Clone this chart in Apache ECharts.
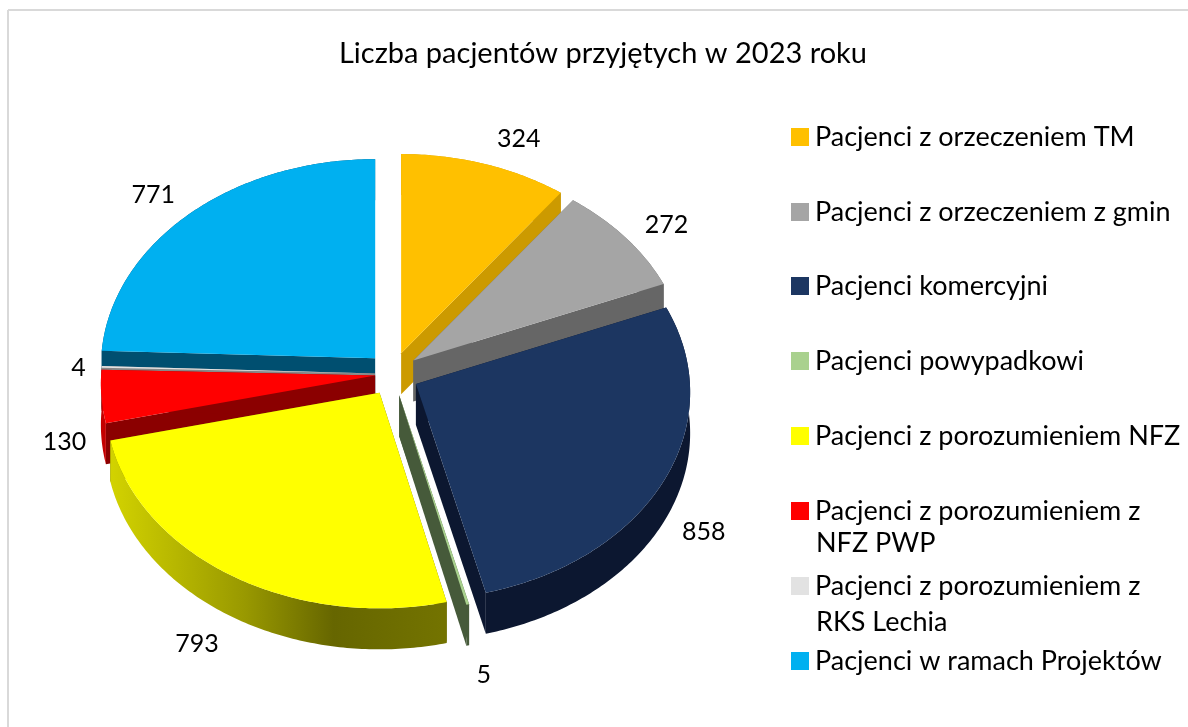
<!DOCTYPE html>
<html><head><meta charset="utf-8">
<style>html,body{margin:0;padding:0;background:#fff}#c{width:1188px;height:727px}</style>
<script src="https://cdn.jsdelivr.net/npm/echarts@6/dist/echarts.min.js"></script>
</head><body><div id="c"></div>
<script>
const titleText = 'Liczba pacjentów przyjętych w 2023 roku';
const categories = ['Pacjenci z orzeczeniem TM','Pacjenci z orzeczeniem z gmin','Pacjenci komercyjni','Pacjenci powypadkowi','Pacjenci z porozumieniem NFZ','Pacjenci z porozumieniem z NFZ PWP','Pacjenci z porozumieniem z RKS Lechia','Pacjenci w ramach Projektów'];
const values = [324,272,858,5,793,130,4,771];
const legendFirstLines = ['Pacjenci z orzeczeniem TM','Pacjenci z orzeczeniem z gmin','Pacjenci komercyjni','Pacjenci powypadkowi','Pacjenci z porozumieniem NFZ','Pacjenci z porozumieniem z','Pacjenci z porozumieniem z','Pacjenci w ramach Projektów'];
const legendSecondLines = ['','','','','','NFZ PWP','RKS Lechia',''];
const topColors = ['#FFC000','#A5A5A5','#1C3661','#A9D18E','#FFFF00','#FF0000','#E2E2E2','#00B0F0'];
const cutColors = ['#CC9A00','#666666','#0C1730','#465A3A','#666600','#8B0000','#888888','#004F70'];
const rimColors = ['#CC9A00','#666666','#0C1730','#465A3A',
  {type:'linear',global:true,x:112,y:0,x2:443,y2:0,colorStops:[{offset:0,color:'#D2D200'},{offset:0.4,color:'#999900'},{offset:0.67,color:'#666600'},{offset:1,color:'#737300'}]},
  '#C40000','#888888','#004F70'];
const explodeScale = [1,1,1,1,1,0.7,0.7,1];
const labelOffsets = [[34,-25],[41,-13],[39,53],[16,71],[-34,69],[-37,45],[-23,1],[-37,-18]];
const drawOrder = [7,0,1,6,5,2,3,4];
const legendY = [137,212,286,361,436,511,586,661];
const secondLineY = [0,0,0,0,0,543,622,0];

const CX=393, CY=374, RX=274, RY=207, PERSP=0.04, EXPLODE_X=25.7, EXPLODE_Y=22, DEPTH=41;
const FONT='Lato', LABEL_SIZE=25, LEGEND_SIZE=27;
const total = values.reduce((a,b)=>a+b,0);
const toRad = d=>d*Math.PI/180;

function sliceRender(idx){
  return function(params, api){
    const val = api.value(0);
    let before = 0;
    for(let k=0;k<idx;k++) before += values[k];
    const a0 = before/total*360, a1 = (before+val)/total*360, mid=(a0+a1)/2;
    const ax = CX + EXPLODE_X*explodeScale[idx]*Math.sin(toRad(mid));
    const ay = CY - EXPLODE_Y*explodeScale[idx]*Math.cos(toRad(mid));
    const pt = a=>{
      const u=Math.sin(toRad(a)), v=-Math.cos(toRad(a)), f=1/(1-PERSP*v);
      return [ax+RX*u*f, ay+RY*v*f];
    };
    const arc=[]; const n=Math.max(2,Math.ceil((a1-a0)/0.75));
    for(let k=0;k<=n;k++) arc.push(pt(a0+(a1-a0)*k/n));
    const down=p=>[p[0],p[1]+DEPTH];
    const poly=(points,fill)=>({type:'polygon',shape:{points},style:{fill,stroke:null},silent:true});
    const apex=[ax,ay];
    const first=arc[0], last=arc[arc.length-1];
    const m=pt(mid);
    return {type:'group',children:[
      poly([apex,first,down(first),down(apex)],cutColors[idx]),
      poly([apex,last,down(last),down(apex)],cutColors[idx]),
      poly(arc.concat(arc.slice().reverse().map(down)),rimColors[idx]),
      poly([apex].concat(arc),topColors[idx]),
      {type:'text',silent:true,z2:50,style:{text:String(val),x:m[0]+labelOffsets[idx][0],y:m[1]+labelOffsets[idx][1],
        fill:'#000',font:LABEL_SIZE+'px '+FONT,align:'center',verticalAlign:'middle'}}
    ]};
  };
}

const chart = echarts.init(document.getElementById('c'),null,{renderer:'canvas'});
chart.setOption({
  animation:false,
  backgroundColor:'#fff',
  title:{text:titleText,left:598,top:34,textAlign:'center',textStyle:{fontFamily:FONT,fontSize:29,fontWeight:'normal',color:'#000'}},
  legend:categories.map((name,i)=>({
    data:[name],left:791,top:legendY[i]-15,orient:'vertical',selectedMode:false,padding:0,
    itemWidth:18,itemHeight:18,icon:'rect',
    formatter:()=>legendFirstLines[i],
    textStyle:{fontFamily:FONT,fontSize:LEGEND_SIZE,color:'#000',lineHeight:30,padding:[0,0,0,1]}
  })),
  graphic:{elements:[
    {type:'line',silent:true,shape:{x1:8,y1:10,x2:1188,y2:10},style:{stroke:'#D9D9D9',lineWidth:2}},
    {type:'line',silent:true,shape:{x1:8,y1:10,x2:8,y2:727},style:{stroke:'#D9D9D9',lineWidth:2}}
  ].concat(legendSecondLines.map((t,i)=>t?{type:'text',silent:true,style:{text:t,x:816,y:secondLineY[i],fill:'#000',font:LEGEND_SIZE+'px '+FONT,verticalAlign:'middle'}}:null).filter(Boolean))},
  series:categories.map((name,i)=>({
    type:'custom',name,coordinateSystem:'none',
    z:2+drawOrder.indexOf(i),
    itemStyle:{color:topColors[i]},
    data:[values[i]],
    renderItem:sliceRender(i)
  }))
});
</script></body></html>
